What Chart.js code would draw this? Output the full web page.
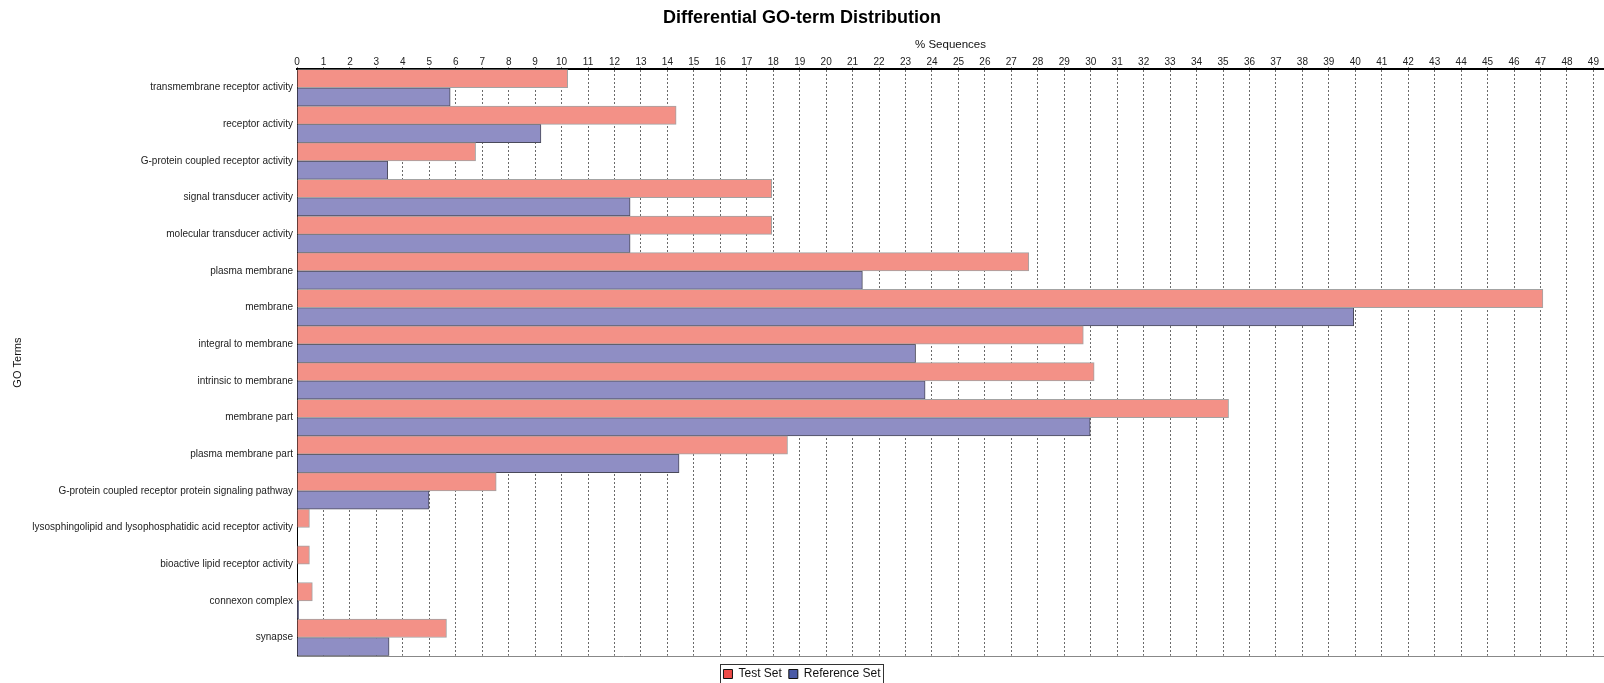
<!DOCTYPE html>
<html lang="en">
<head>
    <meta charset="UTF-8">
    <title>Differential GO-term Distribution</title>
    <script src="https://cdn.jsdelivr.net/npm/chart.js"></script>
    <style>
        body {
            margin: 0;
            background: #fff;
        }
        #wrap {
            width: 1604px;
            height: 683px;
        }
    </style>
</head>
<body>
    <div id="wrap"><canvas id="goChart" width="1604" height="683"></canvas></div>

    <script>
        const categories = [
            "transmembrane receptor activity",
            "receptor activity",
            "G-protein coupled receptor activity",
            "signal transducer activity",
            "molecular transducer activity",
            "plasma membrane",
            "membrane",
            "integral to membrane",
            "intrinsic to membrane",
            "membrane part",
            "plasma membrane part",
            "G-protein coupled receptor protein signaling pathway",
            "lysosphingolipid and lysophosphatidic acid receptor activity",
            "bioactive lipid receptor activity",
            "connexon complex",
            "synapse"
        ];
        const testSet = [10.23, 14.33, 6.75, 17.94, 17.94, 27.66, 47.09, 29.72, 30.13, 35.21, 18.54, 7.53, 0.47, 0.47, 0.58, 5.65];
        const referenceSet = [5.79, 9.22, 3.43, 12.59, 12.59, 21.37, 39.94, 23.38, 23.74, 29.98, 14.44, 4.99, 0, 0, 0.06, 3.48];
        const xTicks = [0, 1, 2, 3, 4, 5, 6, 7, 8, 9, 10, 11, 12, 13, 14, 15, 16, 17, 18, 19, 20, 21, 22, 23, 24,
                        25, 26, 27, 28, 29, 30, 31, 32, 33, 34, 35, 36, 37, 38, 39, 40, 41, 42, 43, 44, 45, 46, 47, 48, 49];

        const FONT = "'Liberation Sans', Arial, sans-serif";

        // frame round the legend + grey line under the plot
        const extras = {
            id: "extras",
            afterDraw(chart) {
                const ctx = chart.ctx;
                const area = chart.chartArea;
                ctx.save();
                ctx.strokeStyle = "#888";
                ctx.lineWidth = 1;
                ctx.beginPath();
                ctx.moveTo(area.left, Math.round(area.bottom) + 0.5);
                ctx.lineTo(area.right, Math.round(area.bottom) + 0.5);
                ctx.stroke();

                const boxes = chart.legend.legendHitBoxes;
                if (boxes && boxes.length) {
                    let l = Math.min(...boxes.map(b => b.left)) - 3;
                    let r = Math.max(...boxes.map(b => b.left + b.width)) + 3;
                    let t = Math.min(...boxes.map(b => b.top)) - 4;
                    let btm = Math.max(...boxes.map(b => b.top + b.height)) + 8;
                    ctx.strokeStyle = "#333";
                    ctx.strokeRect(Math.round(l) + 0.5, Math.round(t) + 0.5, Math.round(r - l), Math.round(btm - t));
                }
                ctx.restore();
            }
        };

        new Chart(document.getElementById("goChart"), {
            type: "bar",
            data: {
                labels: categories,
                datasets: [
                    {
                        label: "Test Set",
                        data: testSet,
                        backgroundColor: "rgb(243, 145, 135)",
                        borderColor: "#a3a3a3",
                        borderWidth: 1,
                        categoryPercentage: 1,
                        barPercentage: 1
                    },
                    {
                        label: "Reference Set",
                        data: referenceSet,
                        backgroundColor: "rgb(143, 142, 196)",
                        borderColor: "#4a4a5a",
                        borderWidth: 1,
                        categoryPercentage: 1,
                        barPercentage: 1
                    }
                ]
            },
            options: {
                indexAxis: "y",
                responsive: false,
                animation: false,
                layout: { padding: { left: 0, right: 0, top: 0, bottom: -7 } },
                scales: {
                    x: {
                        position: "top",
                        min: 0,
                        max: 49.4,
                        afterBuildTicks(scale) {
                            scale.ticks = xTicks.map(v => ({ value: v }));
                        },
                        ticks: {
                            autoSkip: false,
                            maxRotation: 0,
                            padding: -1,
                            color: "#222",
                            font: { family: FONT, size: 10 }
                        },
                        grid: {
                            color: "#6a6a6a",
                            tickColor: "#222",
                            tickLength: 2
                        },
                        border: { display: true, color: "#000", width: 2, dash: [2, 2] },
                        title: {
                            display: true,
                            text: "% Sequences",
                            color: "#111",
                            font: { family: FONT, size: 11.5 },
                            padding: { top: 4, bottom: 6 }
                        }
                    },
                    y: {
                        afterFit(scale) {
                            scale.width = 297;
                        },
                        ticks: {
                            color: "#222",
                            padding: 4,
                            autoSkip: false,
                            font: { family: FONT, size: 10 }
                        },
                        grid: { display: false, drawTicks: false },
                        border: { display: true, color: "#000", width: 1 },
                        title: {
                            display: true,
                            text: "GO Terms",
                            color: "#111",
                            font: { family: FONT, size: 11 },
                            padding: { top: 11, bottom: 0 }
                        }
                    }
                },
                plugins: {
                    title: {
                        display: true,
                        text: "Differential GO-term Distribution",
                        color: "#000",
                        font: { family: FONT, size: 18, weight: "bold" },
                        padding: { top: 7, bottom: 5 }
                    },
                    legend: {
                        position: "bottom",
                        title: {
                            display: true,
                            text: " ",
                            font: { size: 1 },
                            padding: { top: 0, bottom: 4 }
                        },
                        labels: {
                            boxWidth: 9,
                            boxHeight: 9,
                            padding: 7,
                            color: "#111",
                            font: { family: FONT, size: 12 },
                            generateLabels(chart) {
                                const fills = ["#ee4b47", "#4a5aa6"];
                                return chart.data.datasets.map((ds, i) => ({
                                    text: ds.label,
                                    fillStyle: fills[i],
                                    strokeStyle: "#111",
                                    fontColor: "#111",
                                    lineWidth: 1,
                                    datasetIndex: i
                                }));
                            }
                        }
                    },
                    tooltip: { enabled: false }
                }
            },
            plugins: [extras]
        });
    </script>
</body>
</html>
